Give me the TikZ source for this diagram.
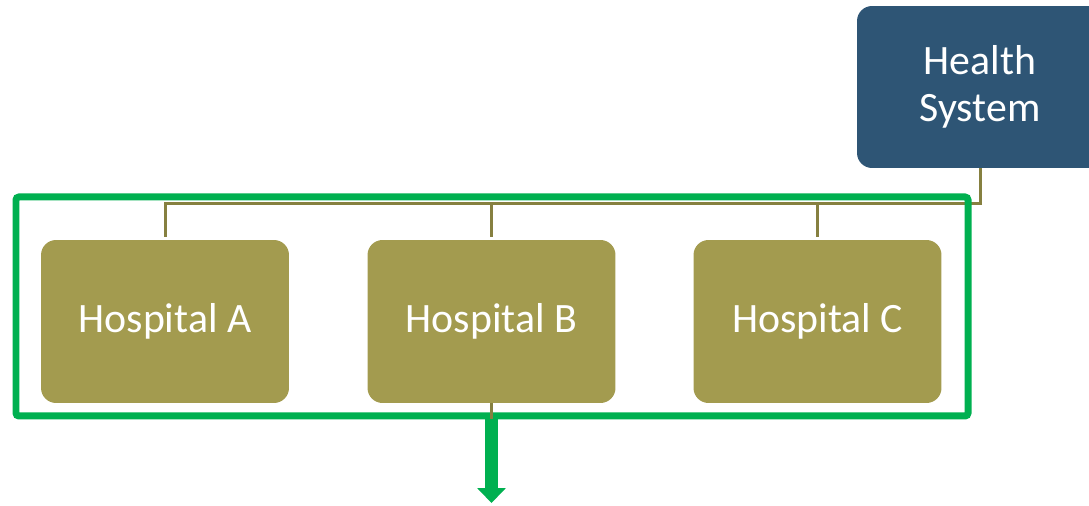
\documentclass[tikz,border=0pt]{standalone}
\usepackage{fontspec}
\setmainfont{Carlito}
\usetikzlibrary{arrows.meta,positioning,calc,fit}
\definecolor{hsblue}{RGB}{46,85,117}
\definecolor{hospolive}{RGB}{163,155,79}
\definecolor{linkolive}{RGB}{134,128,64}
\definecolor{groupgreen}{RGB}{0,176,80}
\tikzset{
  orgbox/.style={rounded corners=0.3cm,text=white,align=center,inner sep=0pt,
    font=\fontsize{23.8}{26.5}\selectfont},
  link/.style={draw=linkolive,line width=0.06cm},
  frame/.style={draw=groupgreen,line width=0.14cm,rounded corners=0.06cm,inner sep=0pt},
  bigarrow/.style={draw=groupgreen,line width=0.26cm,-{Triangle[width=0.56cm,length=0.3cm]}}
}
\begin{document}
\begin{tikzpicture}[x=0.02cm,y=-0.02cm]
\useasboundingbox (0,0) rectangle (1089,506);
\node[orgbox,fill=hsblue,minimum width=4.92cm,minimum height=3.24cm] (hs) at (980,87) {Health\\System};
\foreach \i/\lab/\cx in {A/Hospital A/165,B/Hospital B/491.5,C/Hospital C/817.5}{
\node[orgbox,fill=hospolive,minimum width=4.96cm,minimum height=3.26cm] (hosp\i) at (\cx,321.5) {\lab};}
\coordinate (bus) at (0,204);
\coordinate (frameNW) at (16,197);
\coordinate (frameSE) at (968,416);
\coordinate (out) at (491.5,503);
% bus lines
\draw[link] (hs.south) |- ([xshift=-0.03cm]hospA.north |- bus);
\foreach \i in {A,B,C}{
\draw[link] ([yshift=0.06cm]hospA.north -| hosp\i) -- (hosp\i.north |- bus);}
\node[frame,fit=(frameNW) (frameSE)] (group) {};
\draw[link] (hospB.south) -- (group.south -| hospB);
\draw[bigarrow] (group.south -| hospB) -- (out);
\end{tikzpicture}
\end{document}
